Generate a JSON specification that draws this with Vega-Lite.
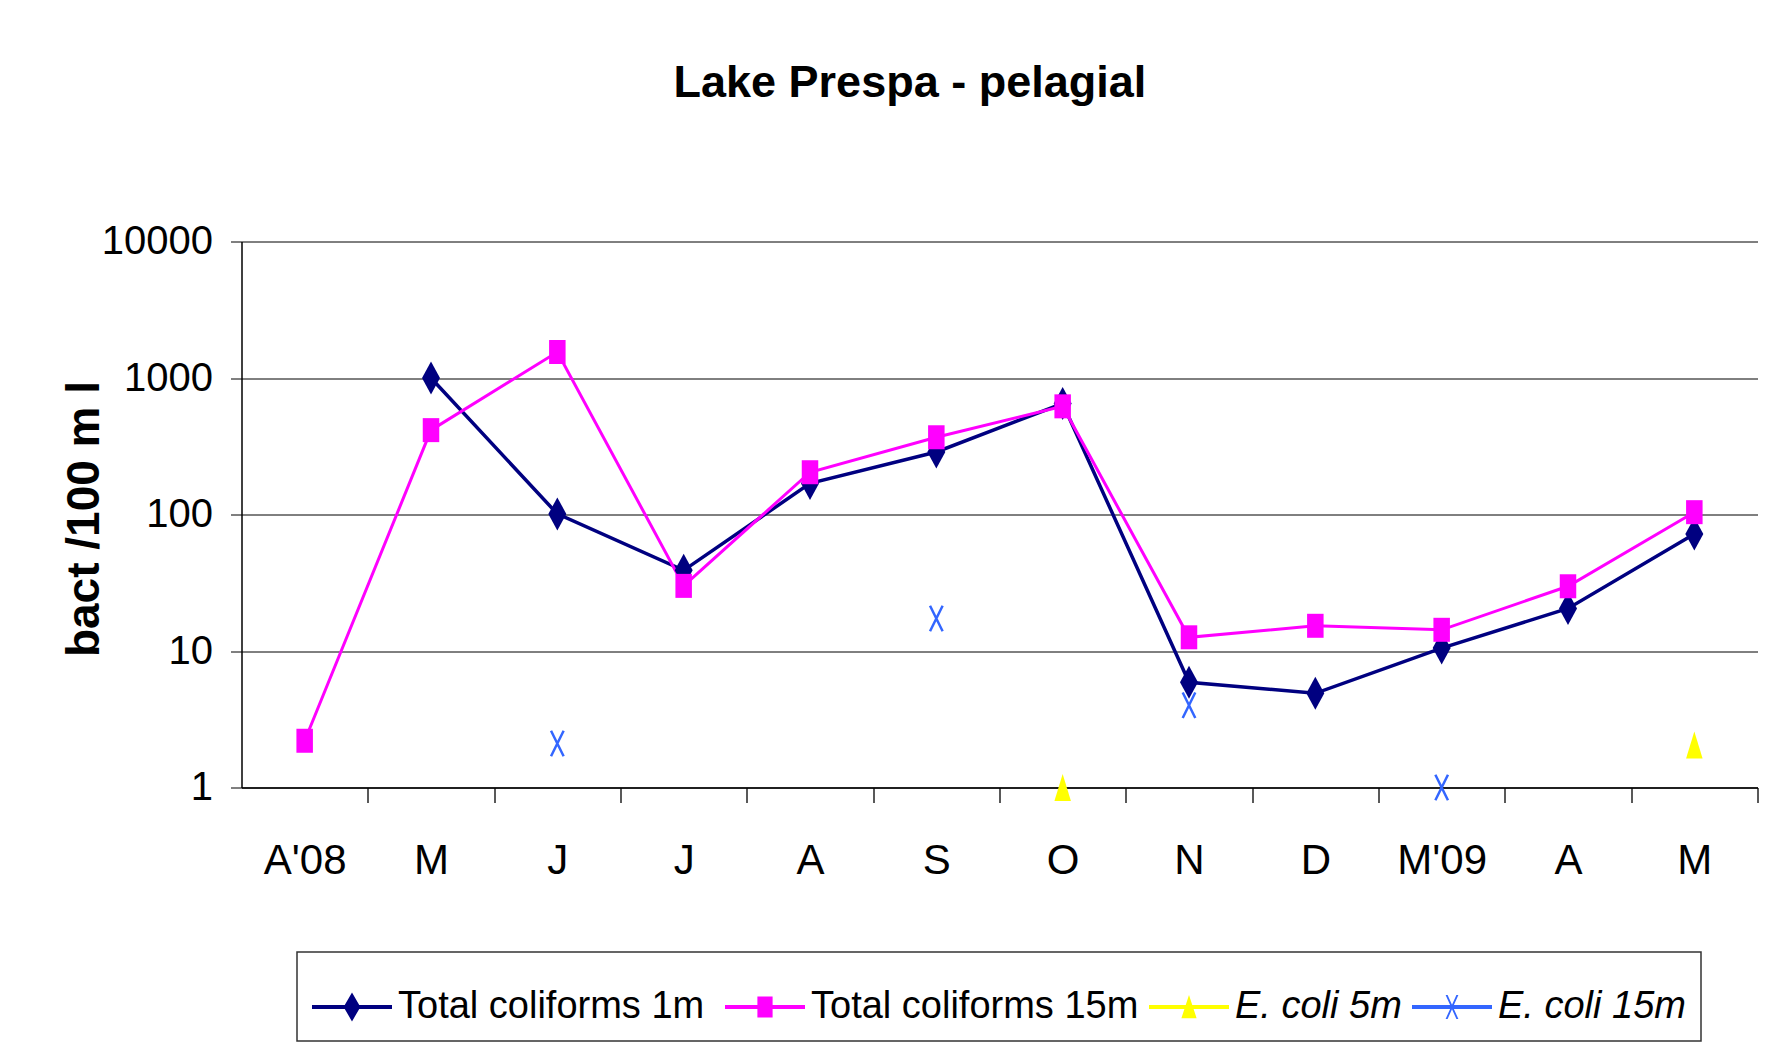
{
  "$schema": "https://vega.github.io/schema/vega-lite/v6.json",
  "width": 1516,
  "height": 546,
  "autosize": "none",
  "padding": {"left": 241.5, "top": 241.5, "right": 20.5, "bottom": 262.5},
  "background": "white",
  "title": {
    "text": "Lake Prespa - pelagial",
    "font": "Liberation Sans",
    "fontSize": 45,
    "fontWeight": "bold",
    "color": "black",
    "frame": "bounds",
    "offset": 116
  },
  "data": {
    "values": [
      {"month": "2008-05", "series": "Total coliforms  1m", "value": 1000},
      {"month": "2008-06", "series": "Total coliforms  1m", "value": 101},
      {"month": "2008-07", "series": "Total coliforms  1m", "value": 39},
      {"month": "2008-08", "series": "Total coliforms  1m", "value": 169},
      {"month": "2008-09", "series": "Total coliforms  1m", "value": 287},
      {"month": "2008-10", "series": "Total coliforms  1m", "value": 650},
      {"month": "2008-11", "series": "Total coliforms  1m", "value": 5.9},
      {"month": "2008-12", "series": "Total coliforms  1m", "value": 4.9},
      {"month": "2009-03", "series": "Total coliforms  1m", "value": 10.5},
      {"month": "2009-04", "series": "Total coliforms  1m", "value": 20.5},
      {"month": "2009-05", "series": "Total coliforms  1m", "value": 72},
      {"month": "2008-04", "series": "Total coliforms 15m", "value": 2.2},
      {"month": "2008-05", "series": "Total coliforms 15m", "value": 415},
      {"month": "2008-06", "series": "Total coliforms 15m", "value": 1550},
      {"month": "2008-07", "series": "Total coliforms 15m", "value": 30},
      {"month": "2008-08", "series": "Total coliforms 15m", "value": 204},
      {"month": "2008-09", "series": "Total coliforms 15m", "value": 368},
      {"month": "2008-10", "series": "Total coliforms 15m", "value": 620},
      {"month": "2008-11", "series": "Total coliforms 15m", "value": 12.6},
      {"month": "2008-12", "series": "Total coliforms 15m", "value": 15.3},
      {"month": "2009-03", "series": "Total coliforms 15m", "value": 14.3},
      {"month": "2009-04", "series": "Total coliforms 15m", "value": 29.8},
      {"month": "2009-05", "series": "Total coliforms 15m", "value": 104},
      {"month": "2008-10", "series": "E. coli 5m", "value": 1},
      {"month": "2009-05", "series": "E. coli 5m", "value": 2.05},
      {"month": "2008-06", "series": "E. coli 15m", "value": 2.1},
      {"month": "2008-09", "series": "E. coli 15m", "value": 17.3},
      {"month": "2008-11", "series": "E. coli 15m", "value": 4},
      {"month": "2009-03", "series": "E. coli 15m", "value": 1}
    ]
  },
  "encoding": {
    "x": {
      "field": "month",
      "type": "ordinal",
      "title": null,
      "scale": {"type": "point", "padding": 0.5},
      "axis": {
        "labelAngle": 0,
        "tickSize": 15,
        "tickOffset": 63.17,
        "labelOffset": -63.17,
        "tickColor": "#222222",
        "tickWidth": 1.5,
        "domainColor": "black",
        "domainWidth": 1.5,
        "grid": false,
        "labelFont": "Liberation Sans",
        "labelFontSize": 42,
        "labelColor": "black",
        "labelBaseline": "top",
        "labelPadding": 38,
        "labelExpr": "slice(monthAbbrevFormat(toNumber(slice(datum.value,5))-1),0,1) + (datum.value == '2008-04' ? \"'08\" : datum.value == '2009-03' ? \"'09\" : '')"
      }
    },
    "y": {
      "field": "value",
      "type": "quantitative",
      "title": "bact /100 m l",
      "scale": {"type": "log", "domain": [1, 10000]},
      "axis": {
        "values": [1, 10, 100, 1000, 10000],
        "format": "d",
        "grid": true,
        "gridColor": "black",
        "gridWidth": 1,
        "gridOpacity": 1,
        "domainColor": "black",
        "domainWidth": 1.5,
        "tickColor": "black",
        "tickSize": 11,
        "labelFont": "Liberation Sans",
        "labelFontSize": 40,
        "labelColor": "black",
        "labelPadding": 18,
        "titleFont": "Liberation Sans",
        "titleFontSize": 46,
        "titleFontWeight": "bold",
        "titleColor": "black",
        "titleAngle": -90,
        "titleX": -157,
        "titleY": 277,
        "titleAlign": "center",
        "titleBaseline": "middle"
      }
    }
  },
  "layer": [
    {
      "transform": [{"filter": {"field": "series", "equal": "Total coliforms  1m"}}],
      "mark": {"type": "line", "strokeWidth": 3.5, "color": "#000080"}
    },
    {
      "transform": [{"filter": {"field": "series", "equal": "Total coliforms 15m"}}],
      "mark": {"type": "line", "strokeWidth": 3, "color": "#FF00FF"}
    },
    {
      "transform": [{"filter": {"field": "series", "equal": "Total coliforms  1m"}}],
      "mark": {"type": "point", "filled": true, "opacity": 1, "color": "#000080", "size": 900, "shape": "M0,-1.1L0.6,0L0,1.1L-0.6,0Z"}
    },
    {
      "transform": [{"filter": {"field": "series", "equal": "Total coliforms 15m"}}],
      "mark": {"type": "point", "filled": true, "opacity": 1, "color": "#FF00FF", "size": 900, "shape": "M-0.55,-0.8L0.55,-0.8L0.55,0.8L-0.55,0.8Z"}
    },
    {
      "transform": [{"filter": {"field": "series", "equal": "E. coli 5m"}}],
      "mark": {"type": "point", "filled": true, "opacity": 1, "color": "#FFFF00", "size": 900, "shape": "M0,-0.9L0.55,0.9L-0.55,0.9Z"}
    },
    {
      "transform": [{"filter": {"field": "series", "equal": "E. coli 15m"}}],
      "mark": {"type": "point", "filled": false, "opacity": 1, "color": "#3366FF", "strokeWidth": 2.5, "size": 900, "shape": "M-0.42,-0.85L0.42,0.85M0.42,-0.85L-0.42,0.85"}
    },
    {
      "mark": {"type": "point", "filled": true, "opacity": 0, "size": 10},
      "encoding": {
        "color": {"field": "series", "type": "nominal", "title": null,
          "scale": {"domain": ["Total coliforms  1m", "Total coliforms 15m", "E. coli 5m", "E. coli 15m"], "range": ["#000080", "#FF00FF", "#FFFF00", "#3366FF"]}},
        "shape": {"field": "series", "type": "nominal", "title": null,
          "scale": {
            "domain": ["Total coliforms  1m", "Total coliforms 15m", "E. coli 5m", "E. coli 15m"],
            "range": [
              "M-1,-0.05L1,-0.05L1,0.05L-1,0.05ZM0,-0.36L0.21,0L0,0.36L-0.21,0Z",
              "M-1,-0.05L1,-0.05L1,0.05L-1,0.05ZM-0.19,-0.26L0.19,-0.26L0.19,0.26L-0.19,0.26Z",
              "M-1,-0.05L1,-0.05L1,0.05L-1,0.05ZM0,-0.3L0.19,0.28L-0.19,0.28Z",
              "M-1,-0.05L1,-0.05L1,0.05L-1,0.05ZM-0.16,-0.3L-0.11,-0.3L0.16,0.3L0.11,0.3ZM0.11,-0.3L0.16,-0.3L-0.11,0.3L-0.16,0.3Z"
            ]
          }
        }
      }
    }
  ],
  "config": {
    "view": {"stroke": null},
    "legend": {
      "orient": "none",
      "legendX": 55.5,
      "legendY": 710.5,
      "direction": "horizontal",
      "columns": 4,
      "symbolSize": 6400,
      "symbolOpacity": 1,
      "symbolStrokeWidth": 0,
      "labelFont": "Liberation Sans",
      "labelFontSize": 38,
      "labelFontStyle": {"expr": "indexof(datum.value, 'E. coli') === 0 ? 'italic' : 'normal'"},
      "labelColor": "black",
      "labelLimit": 600,
      "labelOffset": 6,
      "columnPadding": 10,
      "padding": 15,
      "strokeColor": "#333333",
      "strokeWidth": 1.5,
      "fillColor": "white"
    }
  }
}
